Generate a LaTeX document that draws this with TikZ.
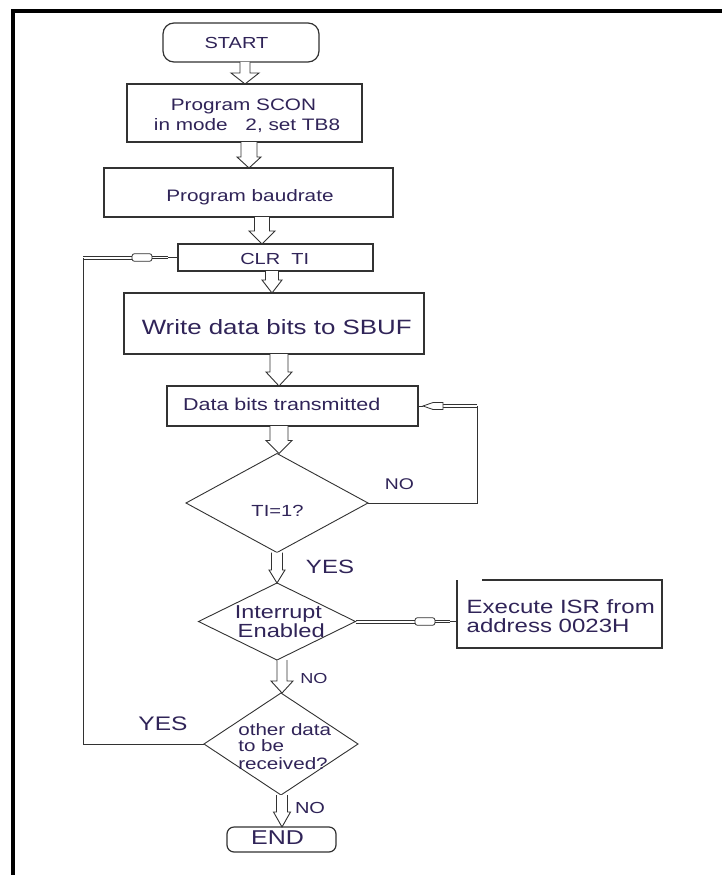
\documentclass[tikz,border=0pt]{standalone}
\usepackage{fontspec}
\usetikzlibrary{shapes.geometric,calc}
\newfontfamily\chartfont[FakeStretch=1.25]{Liberation Sans}
\definecolor{inkc}{RGB}{48,36,88}
\definecolor{linec}{RGB}{50,50,50}
\newcommand\fsz[1]{\fontsize{#1}{#1}\selectfont}
% hollow block arrow: #1 start point, #2 target anchor, #3 shaft half width,
% #4 head half width, #5 head length
\newcommand\fatarrow[5]{%
  \draw[fat] let \p1=(#1), \p2=(#2) in
    (\x1-#3,\y1) -- (\x1-#3,\y2+#5) -- (\x1-#4,\y2+#5) -- (\x1,\y2)
    -- (\x1+#4,\y2+#5) -- (\x1+#3,\y2+#5) -- (\x1+#3,\y1);}
% thin hollow pipe between two named points: #3 is half the gap
\newcommand\tubeseg[3]{%
  \draw[tubeline] ($(#1)+(0,-#3)$) -- ($(#2)+(0,-#3)$);
  \draw[tubeline] ($(#1)+(0,#3)$) -- ($(#2)+(0,#3)$);}

\begin{document}
\begin{tikzpicture}[x=1pt,y=-1pt,
  box/.style={draw=linec,line width=1.2pt,inner sep=0pt,outer sep=0pt},
  term/.style={box,rounded corners=#1},
  decision/.style={draw=linec,line width=0.9pt,diamond,inner sep=0pt,outer sep=0pt},
  txt/.style={inner sep=0pt,outer sep=0pt,text=inkc,font=\chartfont\fsz{#1}},
  fat/.style={draw=linec,line width=0.9pt,fill=white,line join=miter},
  wire/.style={draw=linec,line width=1pt},
  tubeline/.style={draw=linec,line width=0.8pt},
  bulge/.style={draw=linec,line width=0.8pt,fill=white},
]
\useasboundingbox (0,0) rectangle (722,875);
\fill[white] (0,0) rectangle (722,875);
\draw[line width=4pt,black] (13,875) -- (13,11) -- (722,11);

% boxes
\node[term=11pt,minimum width=156pt,minimum height=39pt] (start) at (241,42.5) {};
\node[box,minimum width=235pt,minimum height=58pt] (scon) at (244.5,113) {};
\node[box,minimum width=289pt,minimum height=49pt] (baud) at (248.5,192.5) {};
\node[box,minimum width=195pt,minimum height=27pt] (clr) at (275.5,257.5) {};
\node[box,minimum width=300pt,minimum height=61pt] (write) at (274,323.5) {};
\node[box,minimum width=251pt,minimum height=40pt] (data) at (292.5,406) {};
\node[decision,minimum width=182pt,minimum height=99pt] (d1) at (277,503) {};
\node[decision,minimum width=157pt,minimum height=77pt] (d2) at (277,621.5) {};
\node[inner sep=0pt,outer sep=0pt,minimum width=205pt,minimum height=68pt] (isr) at (559.5,614) {};
\draw[linec,line width=1.2pt] ($(isr.north west)+(25,0)$) -- (isr.north east)
  -- (isr.south east) -- (isr.south west) -- (isr.north west);
\node[decision,minimum width=154pt,minimum height=102pt] (d3) at (281,744) {};
\node[term=7pt,minimum width=109pt,minimum height=25pt] (end) at (281.5,839.5) {};

% texts
\node[txt=16,anchor=base] (startT) at (236.5,48.3) {START};
\node[txt=16.6,anchor=base] (sconT1) at (243.5,110) {Program SCON};
\node[txt=16.6,anchor=base] (sconT2) at (247,130) {in mode\hspace*{12pt} 2, set TB8};
\node[txt=16.6,anchor=base] (baudT) at (250,201.7) {Program baudrate};
\node[txt=16,anchor=base] (clrT) at (274.7,264) {CLR~~TI};
\node[txt=20.7,anchor=base] (writeT) at (276.7,334.3) {Write data bits to SBUF};
\node[txt=17.2,anchor=base] (dataT) at (281.7,410) {Data bits transmitted};
\node[txt=16.1,anchor=base] (d1T) at (277.5,516) {TI=1?};
\node[txt=15.5,anchor=base] (noA) at (399.5,489.3) {NO};
\node[txt=19.2,anchor=base] (yesA) at (330,573) {YES};
\node[txt=18.7,anchor=base] (d2T1) at (278.3,618.3) {Interrupt};
\node[txt=19,anchor=base] (d2T2) at (281.3,637) {Enabled};
\node[txt=19.2,anchor=base west] (isrT1) at (466.7,613.3) {Execute ISR from};
\node[txt=19.2,anchor=base west] (isrT2) at (466.7,632.7) {address 0023H};
\node[txt=14.5,anchor=base] (noB) at (314,683) {NO};
\node[txt=16.5,anchor=base west] (d3T1) at (238.3,735) {other data};
\node[txt=16.5,anchor=base west] (d3T2) at (238.3,751.7) {to be};
\node[txt=16.5,anchor=base west] (d3T3) at (238.3,769) {received?};
\node[txt=19.6,anchor=base] (yesB) at (163,730.7) {YES};
\node[txt=16,anchor=base] (noC) at (310,813.3) {NO};
\node[txt=20,anchor=base] (endT) at (277.5,844) {END};

% main flow
\fatarrow{$(start.south)+(4,0)$}{scon.north}{5pt}{14pt}{11pt}
\fatarrow{$(scon.south)+(4.5,0)$}{baud.north}{8pt}{12pt}{11pt}
\fatarrow{$(baud.south)+(13.5,0)$}{clr.north}{7.5pt}{13pt}{13pt}
\fatarrow{$(clr.south)+(-3.5,0)$}{write.north}{6.5pt}{10pt}{13pt}
\fatarrow{$(write.south)+(5,0)$}{data.north}{9pt}{13pt}{14pt}
\fatarrow{$(data.south)+(-13.5,0)$}{d1.north}{9pt}{13pt}{13pt}
\fatarrow{d1.south}{d2.north}{5.5pt}{8pt}{13pt}
\fatarrow{$(d2.south)+(5,0)$}{d3.north}{5pt}{11pt}{12pt}
\fatarrow{$(d3.south)+(1,0)$}{end.north}{5.5pt}{8.5pt}{15pt}

% loop back to the transmit box
\coordinate (xR) at (477,0);
\coordinate (R0) at (data.east -| xR);
\coordinate (R1) at ($(data.east)+(25,0)$);
\coordinate (R2) at ($(data.east)+(15,0)$);
\coordinate (R3) at ($(data.east)+(5,0)$);
\tubeseg{R0}{R1}{1.5}
\draw[bulge] ($(R1)+(0,-3.5)$) -- ($(R2)+(0,-3.5)$) -- (R3)
  -- ($(R2)+(0,3.5)$) -- ($(R1)+(0,3.5)$) -- cycle;
\draw[wire,line width=0.9pt] (R3) -- (data.east);
\draw[wire] (d1.east) -- (d1.east -| xR) -- (R0);

% branch to the interrupt routine
\coordinate (I4) at (d2.east -| isr.west);
\coordinate (I1) at ($(I4)+(-42,0)$);
\coordinate (I2) at ($(I4)+(-22,0)$);
\coordinate (I3) at ($(I4)+(-7,0)$);
\tubeseg{d2.east}{I1}{1.6}
\draw[bulge,rounded corners=2.5pt] ($(I1)+(0,-3.8)$) -- ($(I2)+(0,-3.8)$)
  -- ($(I2)+(0,3.8)$) -- ($(I1)+(0,3.8)$) -- cycle;
\tubeseg{I2}{I3}{1}
\draw[wire,line width=0.9pt] (I3) -- (I4);

% loop back to CLR TI
\coordinate (xL) at (83,0);
\coordinate (L0) at (clr.west -| xL);
\coordinate (L1) at ($(clr.west)+(-46,0)$);
\coordinate (L2) at ($(clr.west)+(-26,0)$);
\coordinate (L3) at ($(clr.west)+(-10,0)$);
\tubeseg{L0}{L1}{1.6}
\draw[bulge,rounded corners=2.5pt] ($(L1)+(0,-3.8)$) -- ($(L2)+(0,-3.8)$)
  -- ($(L2)+(0,3.8)$) -- ($(L1)+(0,3.8)$) -- cycle;
\tubeseg{L2}{L3}{1}
\draw[wire,line width=0.9pt] (L3) -- (clr.west);
\draw[wire] (d3.west) -- (d3.west -| xL) -- (L0);
\end{tikzpicture}
\end{document}
